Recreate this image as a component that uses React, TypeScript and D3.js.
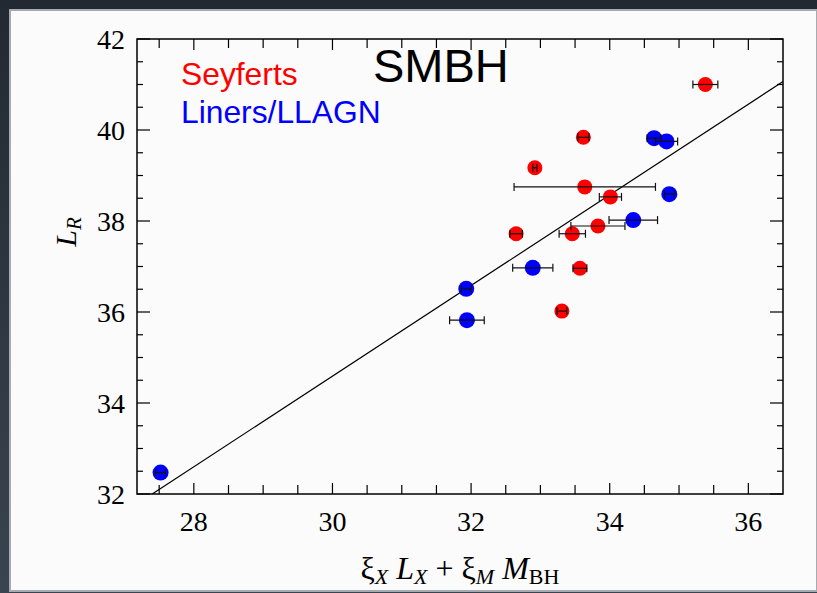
import * as d3 from "d3";

// Seyferts (red)
const seyX = [35.38, 33.62, 32.92, 33.64, 34.01, 32.65, 33.46, 33.83, 33.57, 33.31];
const seyY = [41.0, 39.84, 39.17, 38.75, 38.53, 37.72, 37.72, 37.89, 36.96, 36.02];
const seyErr = [0.18, 0.08, 0.03, 1.02, 0.16, 0.09, 0.19, 0.39, 0.1, 0.07];

// Liners / LLAGN (blue)
const linX = [34.64, 34.82, 34.86, 34.34, 32.89, 31.93, 31.94, 27.52];
const linY = [39.82, 39.75, 38.59, 38.02, 36.97, 36.51, 35.82, 32.47];
const linErr = [0.1, 0.16, 0.07, 0.35, 0.29, 0.07, 0.25, 0.07];

// best-fit relation
const fitSlope = 0.996;
const fitIntercept = 4.71;

const xMajor = [28, 30, 32, 34, 36];
const yMajor = [32, 34, 36, 38, 40, 42];

const W = 817;
const H = 593;
const left = 137, right = 783, top = 39, bottom = 494;

export default function App() {
  const x = d3.scaleLinear([27.18, 36.5], [left, right]);
  const y = d3.scaleLinear([32, 42], [bottom, top]);

  const xMinor = d3.range(27.5, 36.5, 0.5);
  const yMinor = d3.range(32, 42.01, 0.5);

  const fitX = [x.domain()[0], x.domain()[1]];
  const fitLine = d3.line<number>()
    .x(d => x(d))
    .y(d => y(fitSlope * d + fitIntercept));

  const seyferts = seyX.map((v, i) => ({ x: v, y: seyY[i], e: seyErr[i] }));
  const liners = linX.map((v, i) => ({ x: v, y: linY[i], e: linErr[i] }));

  const serif = "'Liberation Serif', 'Times New Roman', serif";
  const sans = "'Liberation Sans', Arial, sans-serif";

  const errBar = (d: { x: number; y: number; e: number }, i: number, key: string) => {
    const x0 = x(d.x - d.e), x1 = x(d.x + d.e), cy = y(d.y);
    return (
      <g key={key + i} stroke="#111" strokeWidth={1.2}>
        <line x1={x0} x2={x1} y1={cy} y2={cy} />
        <line x1={x0} x2={x0} y1={cy - 4} y2={cy + 4} />
        <line x1={x1} x2={x1} y1={cy - 4} y2={cy + 4} />
      </g>
    );
  };

  return (
    <svg width={W} height={H} viewBox={`0 0 ${W} ${H}`}
      style={{ position: "absolute", left: 0, top: 0, display: "block" }}>
      <defs>
        <linearGradient id="frame" x1="0" y1="0" x2="0" y2="1">
          <stop offset="0" stopColor="#222932" />
          <stop offset="1" stopColor="#3a4450" />
        </linearGradient>
        <clipPath id="plot">
          <rect x={left} y={top} width={right - left} height={bottom - top} />
        </clipPath>
      </defs>
      <rect x={0} y={0} width={W} height={H} fill="url(#frame)" />
      <rect x={10} y={10} width={W - 10} height={H - 12} fill="#fbfbfb" stroke="#a7abb0" strokeWidth={2} />

      {/* fit line */}
      <path d={fitLine(fitX) ?? ""} fill="none" stroke="#000" strokeWidth={1.2} clipPath="url(#plot)" />

      {/* points */}
      {seyferts.map((d, i) => (
        <circle key={"sc" + i} cx={x(d.x)} cy={y(d.y)} r={7.5} fill="#ff0000" />
      ))}
      {liners.map((d, i) => (
        <circle key={"lc" + i} cx={x(d.x)} cy={y(d.y)} r={8} fill="#0000ff" />
      ))}
      {seyferts.map((d, i) => errBar(d, i, "se"))}
      {liners.map((d, i) => errBar(d, i, "le"))}

      {/* frame + ticks */}
      <rect x={left} y={top} width={right - left} height={bottom - top} fill="none" stroke="#000" strokeWidth={1.5} />
      <g stroke="#000" strokeWidth={1.2}>
        {xMinor.map(v => {
          const len = xMajor.includes(v) ? 11 : 9;
          return (
            <g key={"xt" + v}>
              <line x1={x(v)} x2={x(v)} y1={bottom} y2={bottom - len} />
              <line x1={x(v)} x2={x(v)} y1={top} y2={top + len} />
            </g>
          );
        })}
        {yMinor.map(v => {
          const len = yMajor.includes(v) ? 13 : 6;
          return (
            <g key={"yt" + v}>
              <line x1={left} x2={left + len} y1={y(v)} y2={y(v)} />
              <line x1={right} x2={right - len} y1={y(v)} y2={y(v)} />
            </g>
          );
        })}
      </g>

      {/* tick labels */}
      <g fontFamily={serif} fontSize={28} fill="#000">
        {xMajor.map(v => (
          <text key={"xl" + v} x={x(v)} y={bottom + 37} textAnchor="middle">{v}</text>
        ))}
        {yMajor.map(v => (
          <text key={"yl" + v} x={left - 12} y={y(v) + 10} textAnchor="end">{v}</text>
        ))}
      </g>

      {/* axis titles */}
      <text x={460} y={579} textAnchor="middle" fontFamily={serif} fontSize={32} fill="#000">
        <tspan>ξ</tspan>
        <tspan fontStyle="italic" fontSize={22} dy={5}>X</tspan>
        <tspan fontStyle="italic" dy={-5}> L</tspan>
        <tspan fontStyle="italic" fontSize={22} dy={5}>X</tspan>
        <tspan dy={-5}> + ξ</tspan>
        <tspan fontStyle="italic" fontSize={22} dy={5}>M</tspan>
        <tspan fontStyle="italic" dy={-5}> M</tspan>
        <tspan fontSize={22} dy={5}>BH</tspan>
      </text>
      <text transform="translate(76,232) rotate(-90)" textAnchor="middle" fontFamily={serif} fontSize={30} fill="#000">
        <tspan fontStyle="italic">L</tspan>
        <tspan fontStyle="italic" fontSize={21} dy={5}>R</tspan>
      </text>

      {/* legend and title */}
      <text x={181} y={85} fontFamily={sans} fontSize={31.8} fill="#ff0000">Seyferts</text>
      <text x={181} y={123} fontFamily={sans} fontSize={31.8} fill="#0000ff">Liners/LLAGN</text>
      <text x={373} y={82} fontFamily={sans} fontSize={47} fill="#000">SMBH</text>
    </svg>
  );
}
